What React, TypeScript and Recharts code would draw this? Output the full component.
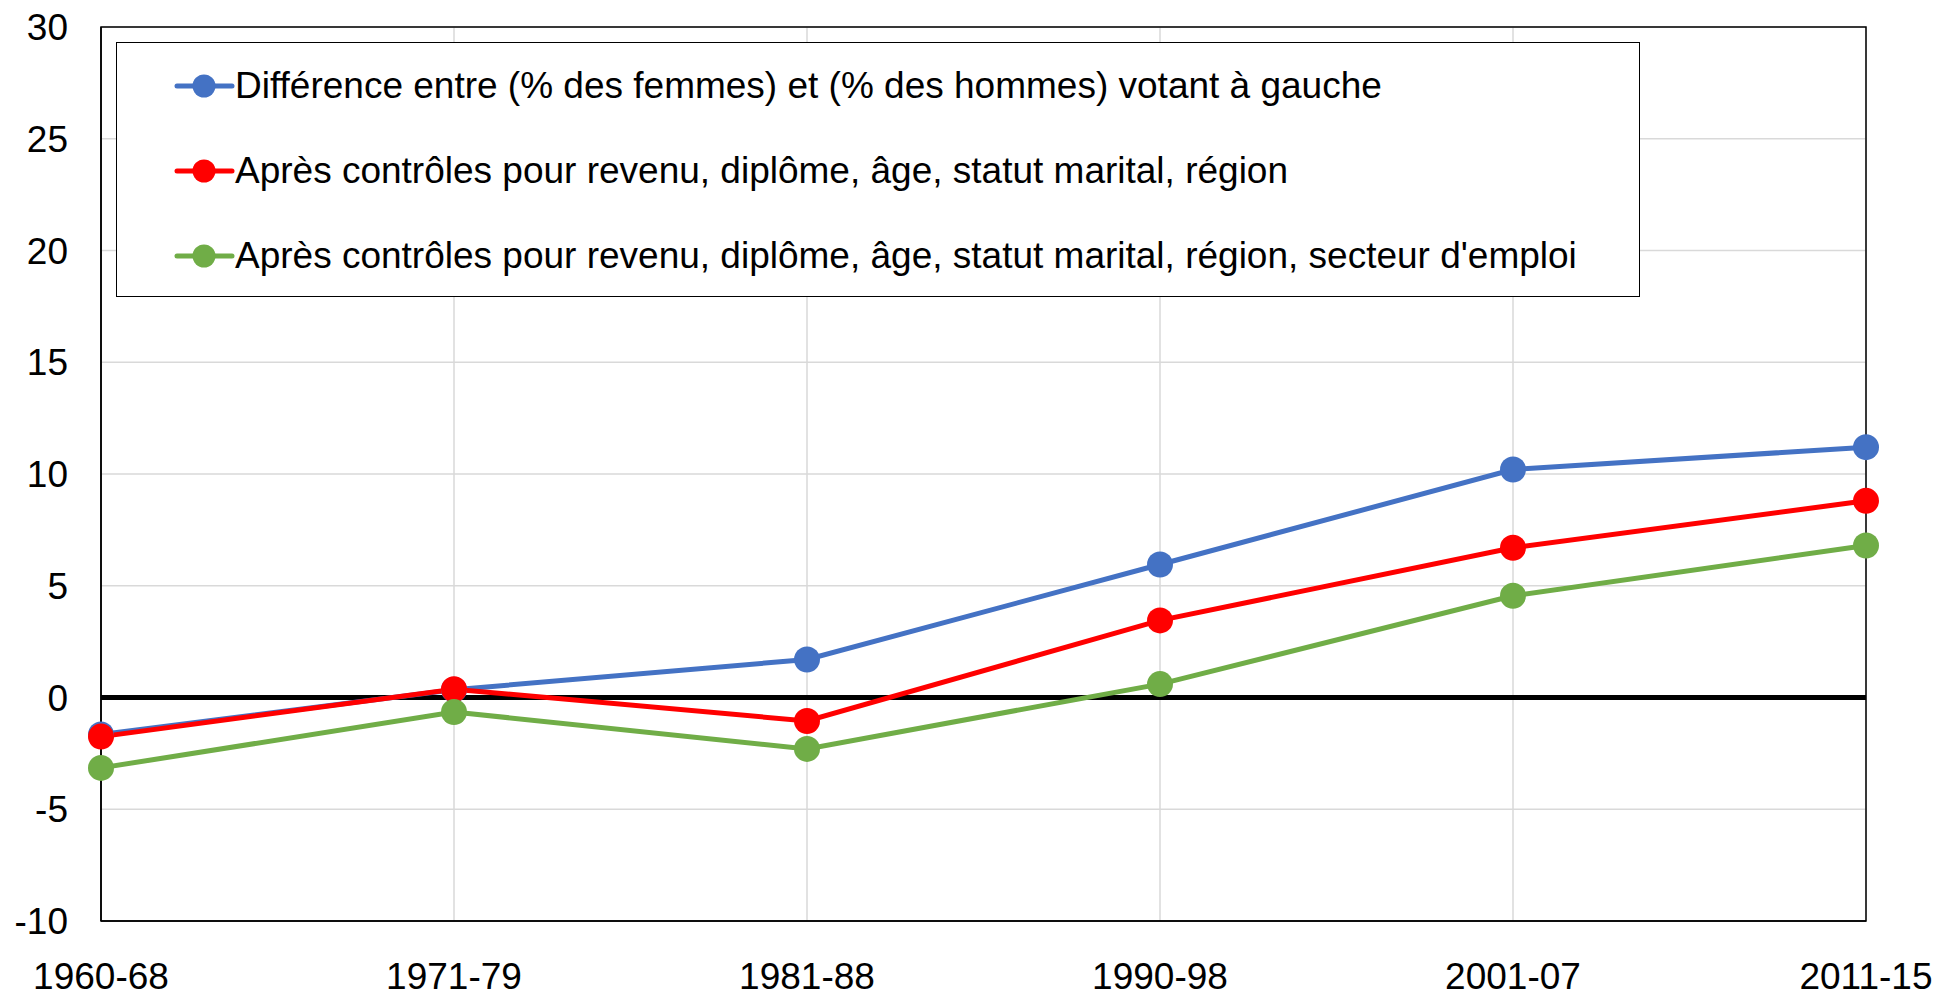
import React from 'react';
import { LineChart, Line, XAxis, YAxis, CartesianGrid, ReferenceLine, ReferenceArea, Legend } from 'recharts';

const periods = ['1960-68', '1971-79', '1981-88', '1990-98', '2001-07', '2011-15'];
const gapRaw = [-1.65, 0.35, 1.7, 5.95, 10.2, 11.2];
const gapCtrl1 = [-1.75, 0.37, -1.05, 3.45, 6.7, 8.8];
const gapCtrl2 = [-3.15, -0.65, -2.3, 0.6, 4.55, 6.8];
const yTicks = [-10, -5, 0, 5, 10, 15, 20, 25, 30];

const seriesNames = [
  'Différence entre (% des femmes) et (% des hommes) votant à gauche',
  'Après contrôles pour revenu, diplôme, âge, statut marital, région',
  "Après contrôles pour revenu, diplôme, âge, statut marital, région, secteur d'emploi",
];
const seriesKeys = ['a', 'b', 'c'];
const seriesColors = ['#4472C4', '#FF0000', '#70AD47'];

const data = periods.map((p, i) => ({
  period: p,
  a: gapRaw[i],
  b: gapCtrl1[i],
  c: gapCtrl2[i],
}));

const FONT = '"Liberation Sans", Arial, sans-serif';
const FS = 37;

const LegendBox = (props: any) => {
  const payload = [...(props.payload || [])].sort(
    (p: any, q: any) => seriesKeys.indexOf(p.dataKey) - seriesKeys.indexOf(q.dataKey)
  );
  return (
    <div
      style={{
        width: 1524,
        height: 255,
        border: '1.5px solid #000',
        boxSizing: 'border-box',
        background: '#fff',
        position: 'relative',
        fontFamily: FONT,
      }}
    >
      {payload.map((entry: any, i: number) => (
        <div
          key={i}
          style={{
            position: 'absolute',
            left: 57,
            top: 43 + i * 85 - 22,
            height: 44,
            display: 'flex',
            alignItems: 'center',
            whiteSpace: 'nowrap',
          }}
        >
          <svg width={61} height={44} style={{ display: 'block' }}>
            <line x1={3} y1={22} x2={58} y2={22} stroke={entry.color} strokeWidth={5} strokeLinecap="round" />
            <circle cx={30} cy={22} r={11.5} fill={entry.color} />
          </svg>
          <span style={{ fontSize: FS, color: '#000' }}>{entry.value}</span>
        </div>
      ))}
    </div>
  );
};

export default function App() {
  return (
    <div style={{ position: 'absolute', left: 0, top: 0, width: 1939, height: 992, background: '#fff', overflow: 'hidden' }}>
      <LineChart
        width={1939}
        height={992}
        data={data}
        margin={{ top: 27, right: 73, bottom: 0, left: 0 }}
        style={{ fontFamily: FONT }}
      >
        <CartesianGrid stroke="#d9d9d9" strokeWidth={1.5} vertical={true} horizontal={true} />
        <XAxis
          dataKey="period"
          scale="point"
          padding={{ left: 0, right: 0 }}
          height={71}
          tickLine={false}
          tickSize={0}
          tickMargin={42}
          axisLine={{ stroke: '#000', strokeWidth: 1.5 }}
          tick={{ fill: '#000', fontSize: FS, fontFamily: FONT }}
          interval={0}
        />
        <YAxis
          domain={[-10, 30]}
          ticks={yTicks}
          width={101}
          tickLine={false}
          tickSize={0}
          tickMargin={33}
          axisLine={{ stroke: '#000', strokeWidth: 1.5 }}
          tick={{ fill: '#000', fontSize: FS, fontFamily: FONT }}
          interval={0}
        />
        <ReferenceArea y1={-10} y2={30} fill="none" stroke="#000" strokeWidth={1.5} fillOpacity={0} />
        <ReferenceLine y={0} stroke="#000" strokeWidth={5} />
        <Legend
          layout="vertical"
          align="center"
          verticalAlign="middle"
          itemSorter="dataKey"
          content={<LegendBox />}
          wrapperStyle={{ position: 'absolute', left: 116, top: 42, width: 1524, height: 255 }}
        />
        {seriesKeys.map((k, i) => (
          <Line
            key={k}
            dataKey={k}
            name={seriesNames[i]}
            stroke={seriesColors[i]}
            strokeWidth={5}
            dot={{ r: 13, fill: seriesColors[i], stroke: 'none' }}
            activeDot={false}
            isAnimationActive={false}
          />
        ))}
      </LineChart>
    </div>
  );
}
